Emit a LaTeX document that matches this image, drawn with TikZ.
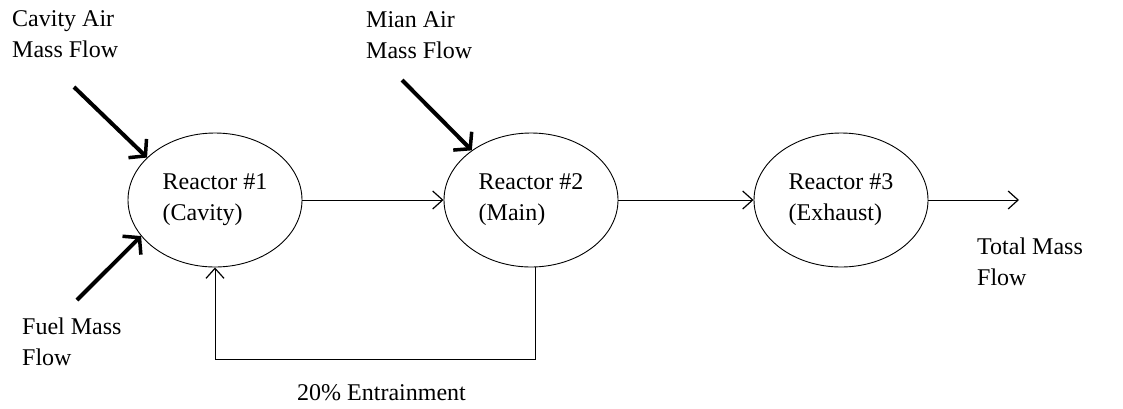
\documentclass[tikz,border=0pt]{standalone}
\usepackage{fontspec}
\setmainfont{Liberation Serif}
\usepackage{tikz}
\usetikzlibrary{shapes.geometric, arrows.meta, positioning, calc}

\tikzset{
  reactor/.style={draw, ellipse, line width=0.9pt, minimum width=174pt, minimum height=134pt, inner sep=0pt, align=left},
  flow/.style={line width=0.9pt, -{Straight Barb[length=10pt, width=18pt, line width=1.2pt]}},
  feed/.style={line width=4pt, -{Straight Barb[length=11pt, width=26pt, line width=3.5pt]}},
  lbl/.style={anchor=west, inner sep=0pt, align=left},
}

\begin{document}
\begin{tikzpicture}[x=1pt, y=-1pt, font=\fontsize{24}{31}\selectfont]
\useasboundingbox (0,0) rectangle (1123,408);

% reactors
\node[reactor] (r1) at (215,200) {Reactor \#1\\(Cavity)};
\node[reactor] (r2) at (531,200) {Reactor \#2\\(Main)};
\node[reactor] (r3) at (841,200) {Reactor \#3\\(Exhaust)};

% feeds
\coordinate (cavin) at (74,87);
\coordinate (fuelin) at (77,300);
\coordinate (mainin) at (402,80);
\coordinate (outlet) at (1019,200);

\node[lbl] (cavlbl) at (12,34) {Cavity Air\\Mass Flow};
\node[lbl] (fuellbl) at (22,342) {Fuel Mass\\Flow};
\node[lbl] (mainlbl) at (366,35) {Mian Air\\Mass Flow};
\node[lbl] (outlbl) at (977,262) {Total Mass\\Flow};

\draw[feed] (cavin) -- (r1.148);
\draw[feed] (fuelin) -- (r1.206);
\draw[feed] (mainin) -- (r2.140);

% main line
\draw[flow] (r1.east) -- (r2.west);
\draw[flow] (r2.east) -- (r3.west);
\draw[flow] (r3.east) -- (outlet);

% recirculation
\draw[flow] ($(r2.south)+(4,0)$) -- ++(0,92) -| (r1.south);
\node[lbl] (entlbl) at (297,393) {20\% Entrainment};
\end{tikzpicture}
\end{document}
